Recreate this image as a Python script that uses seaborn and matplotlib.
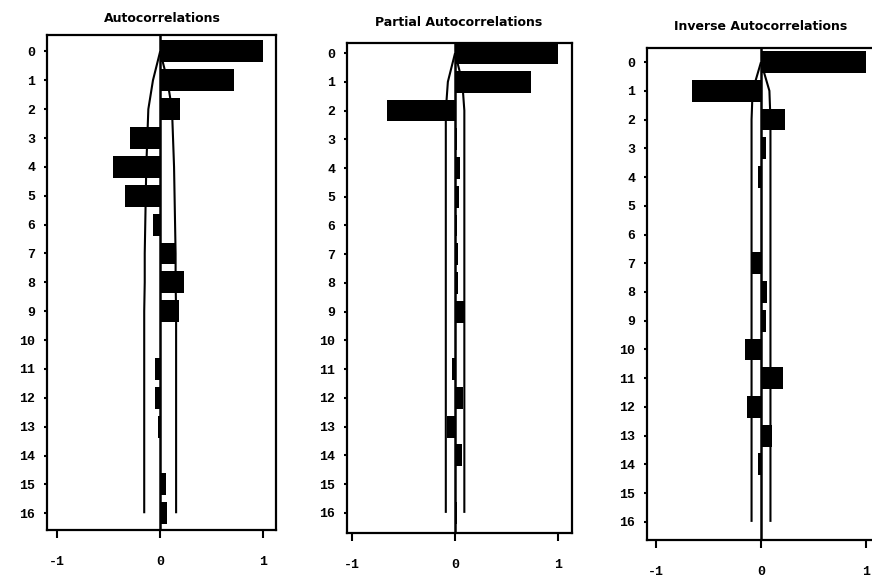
import matplotlib
matplotlib.use("Agg")
import matplotlib.pyplot as plt
import seaborn as sns
import numpy as np

# Lags shown on the vertical axis
lags = list(range(17))
lag_labels = [str(k) for k in lags]

# Sample autocorrelation, partial and inverse autocorrelation functions
acf = [1.0, 0.72, 0.19, -0.29, -0.46, -0.34, -0.07, 0.15, 0.23, 0.18,
       0.01, -0.05, -0.05, -0.02, 0.01, 0.06, 0.07]
pacf = [1.0, 0.74, -0.66, 0.02, 0.05, 0.04, 0.02, 0.03, 0.03, 0.09,
        0.01, -0.03, 0.08, -0.075, 0.07, 0.01, 0.02]
iacf = [1.0, -0.66, 0.23, 0.05, -0.03, 0.01, 0.01, -0.09, 0.06, 0.05,
        -0.15, 0.21, -0.13, 0.10, -0.03, 0.01, 0.01]

# Two standard error limits (half widths) for each lag
acf_band = [0.0, 0.07, 0.115, 0.125, 0.135, 0.14, 0.145, 0.15, 0.15, 0.155,
            0.155, 0.155, 0.155, 0.155, 0.155, 0.155, 0.155]
pacf_band = [0.0, 0.07, 0.09, 0.09, 0.09, 0.09, 0.09, 0.09, 0.09, 0.09,
             0.09, 0.09, 0.09, 0.09, 0.09, 0.09, 0.09]
iacf_band = [0.0, 0.08, 0.09, 0.09, 0.09, 0.09, 0.09, 0.09, 0.09, 0.09,
             0.09, 0.09, 0.09, 0.09, 0.09, 0.09, 0.09]

titles = ["Autocorrelations", "Partial Autocorrelations", "Inverse Autocorrelations"]
x_ticks = [-1, 0, 1]
x_tick_labels = ["-1", "0", "1"]

sns.set_style("white")
plt.rcParams["font.family"] = ["DejaVu Sans"]

W, H = 872, 581
fig = plt.figure(figsize=(W / 100, H / 100), dpi=100)

# panel layout in pixels: left, right, top, bottom, x-limits, y-limits, title centre
layout = [
    dict(box=(47, 276, 35, 530), xlim=(-1.10, 1.126), ylim=(16.58, -0.57), title=(162, 18)),
    dict(box=(347, 572, 43, 533), xlim=(-1.05, 1.136), ylim=(16.70, -0.35), title=(459, 22)),
    dict(box=(647, 877, 48, 540), xlim=(-1.086, 1.105), ylim=(16.63, -0.49), title=(761, 27)),
]

series = [(acf, acf_band), (pacf, pacf_band), (iacf, iacf_band)]

for (vals, band), lay, title in zip(series, layout, titles):
    l, r, t, b = lay["box"]
    ax = fig.add_axes([l / W, (H - b) / H, (r - l) / W, (b - t) / H])
    band_arr = np.asarray(band)
    # confidence limits and the zero reference line
    ax.plot(band_arr, lags, color="black", lw=1.5, zorder=1, solid_capstyle="butt")
    ax.plot(-band_arr, lags, color="black", lw=1.5, zorder=1, solid_capstyle="butt")
    ax.axvline(0, color="black", lw=1.8, zorder=1)
    sns.barplot(x=vals, y=lags, orient="h", color="black", saturation=1,
                width=0.76, linewidth=0, ax=ax, zorder=3)
    ax.set_xlim(*lay["xlim"])
    ax.set_ylim(*lay["ylim"])
    ax.set_xticks(x_ticks)
    ax.set_xticklabels(x_tick_labels)
    ax.set_yticks(lags)
    ax.set_yticklabels(lag_labels)
    ax.set_xlabel("")
    ax.set_ylabel("")
    for s in ax.spines.values():
        s.set_visible(True)
        s.set_color("black")
        s.set_linewidth(1.6)
    ax.tick_params(axis="y", which="major", left=True, direction="out",
                   length=2.5, width=1.5, pad=6, color="black")
    ax.tick_params(axis="x", which="major", bottom=True, direction="out",
                   length=6, width=1.5, pad=13, color="black")
    for lab in ax.get_yticklabels() + ax.get_xticklabels():
        lab.set_fontfamily("Liberation Mono")
        lab.set_fontweight("bold")
        lab.set_fontsize(9.5)
        lab.set_color("black")
    tx, ty = lay["title"]
    fig.text(tx / W, 1 - ty / H, title, ha="center", va="center",
             fontsize=9, fontweight="bold", color="black")

fig.savefig("out.png", dpi=100, facecolor="white")
